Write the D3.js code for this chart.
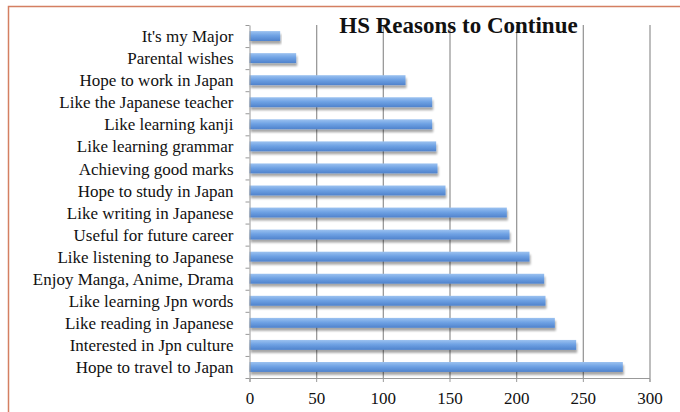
<!DOCTYPE html>
<html><head><meta charset="utf-8">
<script src="https://cdn.jsdelivr.net/npm/d3@7"></script>
<style>body{margin:0;background:#fff;} svg{display:block;}</style>
</head><body>
<svg id="c" width="680" height="412"></svg>
<script>
const categories = ["It's my Major","Parental wishes","Hope to work in Japan","Like the Japanese teacher","Like learning kanji","Like learning grammar","Achieving good marks","Hope to study in Japan","Like writing in Japanese","Useful for future career","Like listening to Japanese","Enjoy Manga, Anime, Drama","Like learning Jpn words","Like reading in Japanese","Interested in Jpn culture","Hope to travel to Japan"];
const values = [23,35,117,137,137,140,141,147,193,195,210,221,222,229,245,280];
const xTicks = [0,50,100,150,200,250,300];
const title = "HS Reasons to Continue";

const FONT = "'Liberation Serif', 'Times New Roman', serif";
const svg = d3.select("#c");
const m = {l:249.5, r:649.5, t:25, b:378};
const x = d3.scaleLinear().domain([0,300]).range([m.l, m.r]);
const y = d3.scaleBand().domain(categories).range([m.t, m.b]).paddingInner(0.55).paddingOuter(0.275);

// border
svg.append("path").attr("d","M8.5,412 L8.5,6.5 L680,6.5").attr("fill","none").attr("stroke","#d47f62").attr("stroke-width",1.5);

const defs = svg.append("defs");
const g = defs.append("linearGradient").attr("id","bg").attr("x1",0).attr("y1",0).attr("x2",0).attr("y2",1);
g.append("stop").attr("offset","0").attr("stop-color","#9cc2f0");
g.append("stop").attr("offset","0.45").attr("stop-color","#6fa2e4");
g.append("stop").attr("offset","1").attr("stop-color","#4f82cc");
const f = defs.append("filter").attr("id","sh").attr("x","-5%").attr("y","-50%").attr("width","110%").attr("height","250%");
f.append("feGaussianBlur").attr("in","SourceAlpha").attr("stdDeviation",1.2).attr("result","b");
f.append("feOffset").attr("in","b").attr("dx",1).attr("dy",2.5).attr("result","o");
f.append("feComponentTransfer").attr("in","o").attr("result","o2").append("feFuncA").attr("type","linear").attr("slope",0.35);
const fm = f.append("feMerge"); fm.append("feMergeNode").attr("in","o2"); fm.append("feMergeNode").attr("in","SourceGraphic");

// gridlines
svg.append("g").selectAll("line").data(xTicks.slice(1)).join("line")
  .attr("x1",d=>x(d)+0.5).attr("x2",d=>x(d)+0.5).attr("y1",m.t).attr("y2",m.b)
  .attr("stroke","#9a9a9a").attr("stroke-width",1.3);

// bars
svg.append("g").selectAll("rect").data(values).join("rect")
  .attr("x",x(0)).attr("y",(d,i)=>y(categories[i])).attr("width",d=>x(d)-x(0))
  .attr("height",y.bandwidth()).attr("fill","url(#bg)").attr("filter","url(#sh)");

// x axis
const xa = svg.append("g").attr("transform",`translate(0,${m.b})`)
  .call(d3.axisBottom(x).tickValues(xTicks).tickSize(4).tickPadding(10));
xa.select(".domain").attr("stroke","#999");
xa.selectAll(".tick line").attr("stroke","#999");
xa.selectAll("text").attr("font-family",FONT).attr("font-size",17).attr("fill","#111");

// y axis
const yb = d3.scaleBand().domain(categories).range([m.t,m.b]);
const ya = svg.append("g").attr("transform",`translate(${m.l},0)`)
  .call(d3.axisLeft(yb).tickSize(0).tickPadding(16));
ya.select(".domain").attr("stroke","#999");
ya.selectAll("text").attr("font-family",FONT).attr("font-size",17).attr("fill","#111").attr("dy","0.36em");
// boundary ticks
const bounds = categories.map(c=>yb(c)).concat([m.b]);
svg.append("g").selectAll("line").data(bounds).join("line")
  .attr("x1",m.l-4).attr("x2",m.l).attr("y1",d=>d+0.5).attr("y2",d=>d+0.5).attr("stroke","#999");

// title
svg.append("text").attr("x",458.5).attr("y",33).attr("text-anchor","middle")
  .attr("font-family",FONT).attr("font-weight","bold")
  .attr("font-size",23).attr("fill","#111").text(title);
</script>
</body></html>
